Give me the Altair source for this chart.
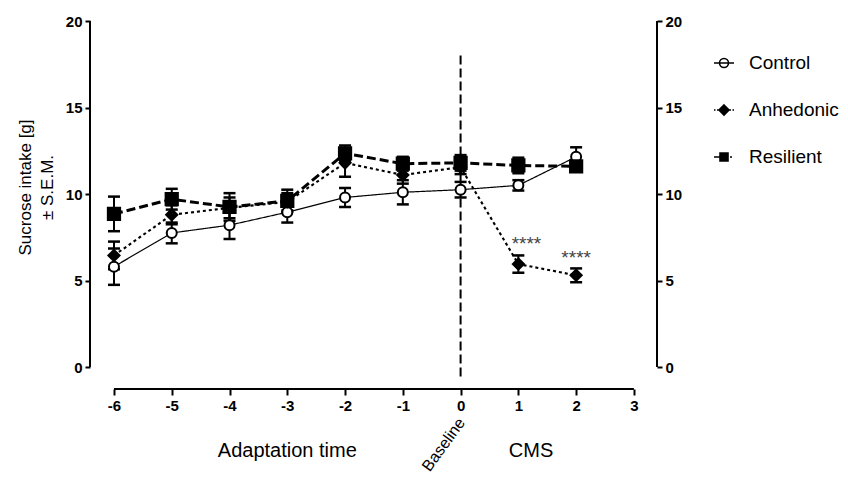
import altair as alt
import pandas as pd

FONT = "Liberation Sans"

# ---------------- data ----------------
weeks = [-6, -5, -4, -3, -2, -1, 0, 1, 2]
groups = ["Control", "Anhedonic", "Resilient"]
control_mean = [5.8, 7.75, 8.2, 8.95, 9.8, 10.1, 10.25, 10.5, 12.15]
control_sem = [1.05, 0.6, 0.8, 0.6, 0.55, 0.7, 0.45, 0.3, 0.55]
anhedonic_mean = [6.45, 8.8, 9.2, 9.55, 11.8, 11.1, 11.55, 5.95, 5.3]
anhedonic_sem = [0.8, 0.55, 0.6, 0.5, 0.8, 0.5, 0.4, 0.5, 0.4]
resilient_mean = [8.85, 9.7, 9.25, 9.6, 12.35, 11.75, 11.8, 11.65, 11.6]
resilient_sem = [1.0, 0.6, 0.8, 0.65, 0.45, 0.4, 0.45, 0.45, 0.3]

x_ticks = [-6, -5, -4, -3, -2, -1, 0, 1, 2, 3]
y_ticks = [0, 5, 10, 15, 20]

star_weeks = [1.14, 2.0]
star_values = [7.1, 6.3]
star_text = ["****", "****"]

phase_labels = ["Adaptation time", "CMS"]
phase_x = [-3.0, 1.22]
phase_y = [-4.85, -4.85]

baseline_label = ["Baseline"]
baseline_label_x = [0.02]
baseline_label_y = [-3.05]

baseline_week = [0]
baseline_top = [18.0]
baseline_bottom = [-0.6]

x_domain = [-6.415, 3.40]
y_domain = [-1.27, 20]
x_axis_span = [-6, 3]
y_axis_span = [0, 20]

# ---------------- tables ----------------
rows = []
for g, m, s in zip(groups, [control_mean, anhedonic_mean, resilient_mean],
                   [control_sem, anhedonic_sem, resilient_sem]):
    for w, mi, si in zip(weeks, m, s):
        rows.append({"group": g, "week": w, "mean": mi, "lo": mi - si, "hi": mi + si})
df = pd.DataFrame(rows)

caps = pd.concat([
    df[["group", "week", "lo"]].rename(columns={"lo": "v"}),
    df[["group", "week", "hi"]].rename(columns={"hi": "v"}),
])

left_axis_df = pd.DataFrame({"x": [x_domain[0]], "y": [y_axis_span[0]], "y2": [y_axis_span[1]]})
right_axis_df = pd.DataFrame({"x": [x_domain[1]], "y": [y_axis_span[0]], "y2": [y_axis_span[1]]})
bottom_axis_df = pd.DataFrame({"x": [x_axis_span[0]], "x2": [x_axis_span[1]], "y": [y_domain[0]]})
vline_df = pd.DataFrame({"x": baseline_week, "y": baseline_top, "y2": baseline_bottom})
stars_df = pd.DataFrame({"x": star_weeks, "y": star_values, "t": star_text})
phase_df = pd.DataFrame({"x": phase_x, "y": phase_y, "t": phase_labels})
base_df = pd.DataFrame({"x": baseline_label_x, "y": baseline_label_y, "t": baseline_label})

W, H = 567, 368
xs = alt.Scale(domain=x_domain, nice=False, zero=False)
ys = alt.Scale(domain=y_domain, nice=False, zero=False)

y_axis_common = dict(
    values=y_ticks, tickSize=5, tickWidth=2, tickColor="black",
    labelFont=FONT, labelFontSize=15, labelFontWeight="bold", labelColor="black",
    labelPadding=3, domain=False, grid=False,
)

left_axis = alt.Axis(
    orient="left", title=["Sucrose intake [g]", "\u00b1 S.E.M."],
    titleFont=FONT, titleFontSize=17, titleFontWeight="normal", titleColor="black",
    titleLineHeight=22, titleX=-65, titleY=166, titleAngle=270,
    titleBaseline="middle", titleAlign="center",
    **y_axis_common,
)
right_axis = alt.Axis(orient="right", **y_axis_common)

x_axis = alt.Axis(
    values=x_ticks, tickSize=6, tickWidth=2, tickColor="black",
    labelFont=FONT, labelFontSize=15, labelFontWeight="bold", labelColor="black",
    labelPadding=3, domain=False, grid=False,
    labelExpr="datum.value < 0 ? '-' + abs(datum.value) : '' + datum.value",
)

# ---------------- layers ----------------
left_line = alt.Chart(left_axis_df).mark_rule(color="black", strokeWidth=2).encode(
    x=alt.X("x:Q", scale=xs, axis=None),
    y=alt.Y("y:Q", scale=ys, axis=left_axis),
    y2="y2:Q",
)
right_line = alt.Chart(right_axis_df).mark_rule(color="black", strokeWidth=2).encode(
    x=alt.X("x:Q", scale=xs, axis=None),
    y=alt.Y("y:Q", scale=ys, axis=right_axis, title=None),
    y2="y2:Q",
)
bottom_line = alt.Chart(bottom_axis_df).mark_rule(color="black", strokeWidth=2).encode(
    x=alt.X("x:Q", scale=xs, axis=x_axis, title=None),
    x2="x2:Q",
    y=alt.Y("y:Q", scale=ys, axis=None),
)

vline = alt.Chart(vline_df).mark_rule(color="black", strokeWidth=2, strokeDash=[9, 4]).encode(
    x=alt.X("x:Q", scale=xs, axis=None),
    y=alt.Y("y:Q", scale=ys, axis=None),
    y2="y2:Q",
)

err = alt.Chart(df).mark_rule(color="black", strokeWidth=2, opacity=1).encode(
    x=alt.X("week:Q", scale=xs, axis=None),
    y=alt.Y("lo:Q", scale=ys, axis=None),
    y2="hi:Q",
    detail="group:N",
)
cap = alt.Chart(caps).mark_tick(color="black", orient="horizontal", size=12, thickness=2.5, opacity=1).encode(
    x=alt.X("week:Q", scale=xs, axis=None),
    y=alt.Y("v:Q", scale=ys, axis=None),
    detail="group:N",
)

lines = alt.Chart(df).mark_line(color="black").encode(
    x=alt.X("week:Q", scale=xs, axis=None),
    y=alt.Y("mean:Q", scale=ys, axis=None),
    detail="group:N",
    strokeDash=alt.StrokeDash("group:N", scale=alt.Scale(domain=groups, range=[[1, 0], [3, 3], [9, 4]]), legend=None),
    strokeWidth=alt.StrokeWidth("group:N", scale=alt.Scale(domain=groups, range=[1.2, 3, 3]), legend=None),
)

points = alt.Chart(df).mark_point(filled=True, stroke="black", strokeWidth=2, opacity=1).encode(
    x=alt.X("week:Q", scale=xs, axis=None),
    y=alt.Y("mean:Q", scale=ys, axis=None),
    shape=alt.Shape("group:N", scale=alt.Scale(domain=groups, range=["circle", "diamond", "square"]), legend=None),
    fill=alt.Fill("group:N", scale=alt.Scale(domain=groups, range=["white", "black", "black"]), legend=None),
    size=alt.Size("group:N", scale=alt.Scale(domain=groups, range=[100, 150, 120]), legend=None),
)

stars = alt.Chart(stars_df).mark_text(font=FONT, fontSize=19, color="#444444", baseline="middle").encode(
    x=alt.X("x:Q", scale=xs, axis=None),
    y=alt.Y("y:Q", scale=ys, axis=None),
    text="t:N",
)

phases = alt.Chart(phase_df).mark_text(font=FONT, fontSize=20, color="black", baseline="middle").encode(
    x=alt.X("x:Q", scale=xs, axis=None),
    y=alt.Y("y:Q", scale=ys, axis=None),
    text="t:N",
)

base_txt = alt.Chart(base_df).mark_text(font=FONT, fontSize=16, color="black", baseline="middle",
                                         align="right", angle=306).encode(
    x=alt.X("x:Q", scale=xs, axis=None),
    y=alt.Y("y:Q", scale=ys, axis=None),
    text="t:N",
)

# legend symbols: line + marker as custom paths
legend_paths = [
    "M-1,0L1,0M0.45,0A0.45,0.45,0,1,1,-0.45,0A0.45,0.45,0,1,1,0.45,0Z",
    "M-1,0L-0.85,0M-0.7,0L-0.5,0M0,-0.5L0.5,0L0,0.5L-0.5,0ZM0.5,0L0.7,0M0.85,0L1,0",
    "M-1,0L-0.4,0M-0.4,-0.4L0.4,-0.4L0.4,0.4L-0.4,0.4ZM0.6,0L0.8,0",
]
legend_opts = dict(
    title=None, orient="none", legendX=623, legendY=31, symbolSize=400, symbolOpacity=1,
    symbolStrokeWidth=1.6, labelFont=FONT, labelFontSize=19, labelColor="black",
    labelOffset=14, rowPadding=26, padding=0,
)
legend_layer = alt.Chart(df).transform_filter("datum.week > 100").mark_point(
    filled=True, stroke="black", strokeWidth=1.6, size=400
).encode(
    x=alt.X("week:Q", scale=xs, axis=None),
    y=alt.Y("mean:Q", scale=ys, axis=None),
    shape=alt.Shape("group:N", scale=alt.Scale(domain=groups, range=legend_paths), legend=alt.Legend(**legend_opts)),
    fill=alt.Fill("group:N", scale=alt.Scale(domain=groups, range=["white", "black", "black"]), legend=alt.Legend(**legend_opts)),
)

chart = alt.layer(
    left_line, right_line, bottom_line, vline, err, cap, lines, points, stars, phases, base_txt, legend_layer
).resolve_scale(
    shape="independent", fill="independent", size="independent"
).resolve_axis(
    x="independent", y="independent"
).properties(
    width=W, height=H,
    autosize=alt.AutoSizeParams(type="none"),
    padding={"left": 82, "top": 13, "right": 183, "bottom": 93},
).configure_view(stroke=None)

chart.save("out.html", embed_options={"renderer": "svg", "actions": False})
